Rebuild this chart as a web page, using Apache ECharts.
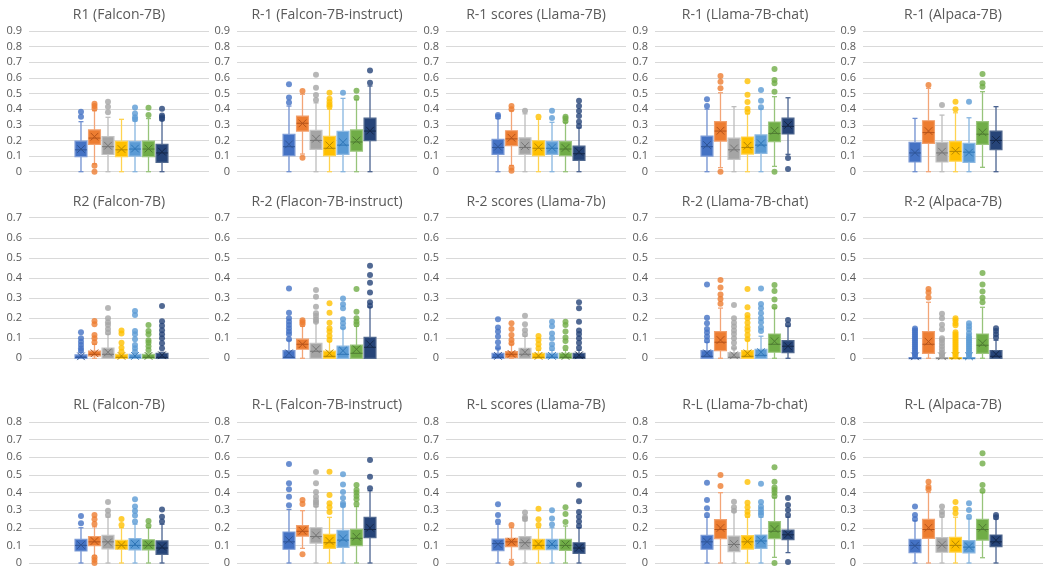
<!DOCTYPE html>
<html>
<head>
<meta charset="utf-8">
<script src="https://cdn.jsdelivr.net/npm/echarts@6/dist/echarts.min.js"></script>
<style>
html,body{margin:0;padding:0;background:#fff;}
#chart{width:1045px;height:571px;}
</style>
</head>
<body>
<div id="chart"></div>
<script>
// ---------- DATA ----------
const titles = [
  'R1 (Falcon-7B)', 'R-1 (Falcon-7B-instruct)', 'R-1 scores (Llama-7B)', 'R-1 (Llama-7B-chat)', 'R-1 (Alpaca-7B)',
  'R2 (Falcon-7B)', 'R-2 (Flacon-7B-instruct)', 'R-2 scores (Llama-7b)', 'R-2 (Llama-7B-chat)', 'R-2 (Alpaca-7B)',
  'RL (Falcon-7B)', 'R-L (Falcon-7B-instruct)', 'R-L scores (Llama-7B)', 'R-L (Llama-7b-chat)', 'R-L (Alpaca-7B)'
];
const rowMax = [0.9, 0.7, 0.8];
const yTickInterval = 0.1;

// each box: [lower whisker, Q1, median, Q3, upper whisker, mean]
const r1FalconStats = [
  [0, 0.096, 0.14, 0.196, 0.32, 0.145],
  [0.05, 0.175, 0.215, 0.267, 0.39, 0.224],
  [0, 0.11, 0.16, 0.224, 0.348, 0.166],
  [0, 0.096, 0.14, 0.194, 0.335, 0.145],
  [0, 0.1, 0.145, 0.192, 0.325, 0.148],
  [0, 0.096, 0.145, 0.196, 0.34, 0.148],
  [0, 0.06, 0.12, 0.175, 0.33, 0.128]
];
const r1FalconOutliers = [
  [0.384, 0.352], [0.435, 0.42, 0.405, 0.038, 0], [0.448, 0.415, 0.38], [],
  [0.41, 0.373, 0.348, 0.335], [0.409, 0.362], [0.403, 0.36, 0.348, 0.337]
];

const r1FalconInstStats = [
  [0, 0.102, 0.16, 0.239, 0.42, 0.175],
  [0.113, 0.26, 0.31, 0.356, 0.495, 0.309],
  [0, 0.143, 0.2, 0.264, 0.44, 0.211],
  [0, 0.102, 0.15, 0.226, 0.40, 0.168],
  [0, 0.111, 0.17, 0.258, 0.469, 0.188],
  [0, 0.132, 0.19, 0.267, 0.46, 0.2],
  [0, 0.198, 0.26, 0.343, 0.548, 0.262]
];
const r1FalconInstOutliers = [
  [0.559, 0.475, 0.443], [0.517, 0.09], [0.62, 0.537, 0.49, 0.458],
  [0.505, 0.467, 0.446, 0.428, 0.416], [0.505], [0.518, 0.473], [0.648, 0.569]
];

const r1LlamaStats = [
  [0, 0.111, 0.155, 0.207, 0.34, 0.16],
  [0.04, 0.166, 0.21, 0.262, 0.39, 0.217],
  [0, 0.111, 0.155, 0.217, 0.37, 0.164],
  [0, 0.102, 0.15, 0.198, 0.335, 0.156],
  [0, 0.111, 0.15, 0.192, 0.316, 0.154],
  [0, 0.102, 0.145, 0.192, 0.315, 0.152],
  [0, 0.072, 0.115, 0.164, 0.28, 0.128]
];
const r1LlamaOutliers = [
  [0.362, 0.352], [0.42, 0.4, 0.026, 0.006], [0.39], [0.352],
  [0.39, 0.343], [0.352, 0.34, 0.322], [0.454, 0.42, 0.388, 0.356, 0.32, 0.292]
];

const r1LlamaChatStats = [
  [0, 0.1, 0.16, 0.228, 0.40, 0.171],
  [0.026, 0.196, 0.26, 0.32, 0.505, 0.262],
  [0, 0.079, 0.14, 0.215, 0.416, 0.149],
  [0, 0.113, 0.155, 0.222, 0.37, 0.166],
  [0, 0.117, 0.17, 0.235, 0.40, 0.181],
  [0.034, 0.192, 0.245, 0.318, 0.48, 0.262],
  [0.111, 0.241, 0.29, 0.343, 0.473, 0.299]
];
const r1LlamaChatOutliers = [
  [0.463, 0.42], [0.612, 0.576, 0.533, 0], [], [0.578, 0.493, 0.446, 0.403, 0.384],
  [0.522, 0.454, 0.412], [0.657, 0.586, 0.565, 0.512, 0], [0.087, 0.017]
];

const r1AlpacaStats = [
  [0, 0.062, 0.12, 0.188, 0.341, 0.122],
  [0, 0.181, 0.25, 0.326, 0.533, 0.26],
  [0, 0.062, 0.12, 0.188, 0.362, 0.128],
  [0, 0.068, 0.13, 0.192, 0.377, 0.134],
  [0, 0.06, 0.125, 0.181, 0.345, 0.122],
  [0.028, 0.175, 0.24, 0.32, 0.512, 0.252],
  [0, 0.141, 0.2, 0.26, 0.416, 0.203]
];
const r1AlpacaOutliers = [
  [], [0.554], [0.426], [0.448, 0.399], [0.448], [0.625, 0.565, 0.544], []
];

const r2FalconStats = [
  [0, 0, 0.005, 0.017, 0.03, 0.01],
  [0, 0.012, 0.02, 0.036, 0.07, 0.025],
  [0, 0, 0.02, 0.051, 0.12, 0.03],
  [0, 0, 0.005, 0.02, 0.025, 0.012],
  [0, 0, 0.005, 0.02, 0.025, 0.012],
  [0, 0, 0.005, 0.02, 0.025, 0.012],
  [0, 0, 0.005, 0.025, 0.03, 0.015]
];
const r2FalconOutliers = [
  [0.13, 0.1, 0.083, 0.066, 0.05, 0.038],
  [0.186, 0.17, 0.116, 0.1, 0.08],
  [0.25, 0.2, 0.18, 0.166, 0.146, 0.128],
  [0.138, 0.124, 0.078, 0.053, 0.033],
  [0.235, 0.215, 0.136, 0.12, 0.095, 0.066, 0.05, 0.033],
  [0.166, 0.136, 0.12, 0.09, 0.078, 0.06, 0.041],
  [0.26, 0.185, 0.162, 0.14, 0.12, 0.1, 0.075, 0.05]
];

const r2FalconInstStats = [
  [0, 0, 0.005, 0.038, 0.09, 0.025],
  [0, 0.045, 0.07, 0.095, 0.16, 0.07],
  [0, 0, 0.035, 0.075, 0.18, 0.045],
  [0, 0, 0.01, 0.036, 0.085, 0.025],
  [0, 0, 0.02, 0.061, 0.15, 0.038],
  [0, 0, 0.025, 0.066, 0.16, 0.045],
  [0, 0, 0.055, 0.104, 0.255, 0.07]
];
const r2FalconInstOutliers = [
  [0.348, 0.227, 0.2, 0.182, 0.166, 0.15, 0.133, 0.12, 0.095],
  [0.19, 0.18, 0.17],
  [0.34, 0.307, 0.257, 0.224, 0.21, 0.194, 0.182],
  [0.274, 0.227, 0.177, 0.15, 0.133, 0.111, 0.091],
  [0.298, 0.269, 0.249, 0.194, 0.174, 0.155],
  [0.345, 0.232, 0.2, 0.182, 0.17],
  [0.461, 0.415, 0.376, 0.327, 0.279, 0.262]
];

const r2LlamaStats = [
  [0, 0, 0.005, 0.025, 0.05, 0.012],
  [0, 0.003, 0.02, 0.033, 0.07, 0.022],
  [0, 0, 0.02, 0.05, 0.11, 0.03],
  [0, 0, 0.005, 0.025, 0.04, 0.012],
  [0, 0, 0.005, 0.025, 0.04, 0.012],
  [0, 0, 0.005, 0.025, 0.04, 0.012],
  [0, 0, 0.005, 0.025, 0.04, 0.015]
];
const r2LlamaOutliers = [
  [0.194, 0.153, 0.133, 0.108, 0.08, 0.053],
  [0.174, 0.146, 0.116, 0.091, 0.075],
  [0.212, 0.17, 0.14, 0.12],
  [0.111, 0.091, 0.07, 0.05],
  [0.182, 0.16, 0.124, 0.1, 0.07, 0.05],
  [0.182, 0.166, 0.133, 0.103, 0.086, 0.053],
  [0.279, 0.249, 0.182, 0.138, 0.121, 0.1, 0.078, 0.053]
];

const r2LlamaChatStats = [
  [0, 0, 0.01, 0.038, 0.08, 0.025],
  [0, 0.038, 0.08, 0.133, 0.25, 0.091],
  [0, 0, 0.005, 0.028, 0.05, 0.015],
  [0, 0, 0.01, 0.038, 0.09, 0.025],
  [0, 0, 0.015, 0.045, 0.11, 0.03],
  [0, 0.03, 0.07, 0.121, 0.25, 0.085],
  [0, 0.028, 0.06, 0.088, 0.16, 0.06]
];
const r2LlamaChatOutliers = [
  [0.368, 0.202, 0.174, 0.146, 0.129, 0.108, 0.088],
  [0.39, 0.352, 0.318, 0.295, 0.272],
  [0.265, 0.2, 0.177, 0.158, 0.138, 0.121, 0.1, 0.078, 0.053],
  [0.345, 0.254, 0.216, 0.2, 0.177, 0.154, 0.138, 0.116, 0.095],
  [0.348, 0.27, 0.249, 0.224, 0.2, 0.18, 0.153, 0.136],
  [0.365, 0.335, 0.293, 0.257],
  [0.191, 0.168]
];

const r2AlpacaStats = [
  [0, 0, 0, 0.003, 0.005, 0.01],
  [0, 0.025, 0.07, 0.133, 0.279, 0.083],
  [0, 0, 0, 0.003, 0.005, 0.01],
  [0, 0, 0, 0.003, 0.005, 0.012],
  [0, 0, 0, 0.003, 0.005, 0.01],
  [0, 0.025, 0.065, 0.121, 0.254, 0.075],
  [0, 0, 0.01, 0.038, 0.09, 0.02]
];
const r2AlpacaOutliers = [
  [0.148, 0.14, 0.13, 0.12, 0.11, 0.1, 0.09, 0.08, 0.07, 0.06, 0.05, 0.04, 0.03, 0.02, 0.01],
  [0.345, 0.328, 0.303],
  [0.222, 0.2, 0.167, 0.145, 0.1, 0.09, 0.075, 0.06, 0.045, 0.03, 0.02, 0.01],
  [0.2, 0.19, 0.175, 0.165, 0.13, 0.12, 0.11, 0.1, 0.09, 0.08, 0.07, 0.06, 0.05, 0.04, 0.03, 0.02, 0.01],
  [0.175, 0.16, 0.145, 0.125, 0.11, 0.1, 0.09, 0.08, 0.07, 0.06, 0.05, 0.04, 0.03, 0.02, 0.01],
  [0.425, 0.368, 0.332, 0.302, 0.279],
  [0.149, 0.136, 0.12, 0.103]
];

const rlFalconStats = [
  [0, 0.068, 0.1, 0.134, 0.2, 0.102],
  [0.04, 0.098, 0.12, 0.15, 0.205, 0.125],
  [0, 0.08, 0.12, 0.157, 0.26, 0.117],
  [0, 0.078, 0.1, 0.129, 0.2, 0.102],
  [0, 0.074, 0.1, 0.138, 0.22, 0.108],
  [0, 0.074, 0.1, 0.132, 0.2, 0.104],
  [0, 0.049, 0.085, 0.125, 0.22, 0.093]
];
const rlFalconOutliers = [
  [0.267, 0.225], [0.272, 0.248, 0.221, 0.032, 0.017, 0], [0.346, 0.297, 0.272],
  [0.25, 0.216], [0.361, 0.32, 0.295, 0.269, 0.235], [0.238, 0.212], [0.304, 0.263, 0.235]
];

const rlFalconInstStats = [
  [0, 0.078, 0.12, 0.176, 0.304, 0.13],
  [0.083, 0.153, 0.18, 0.212, 0.297, 0.183],
  [0, 0.113, 0.15, 0.2, 0.32, 0.157],
  [0, 0.083, 0.115, 0.163, 0.259, 0.125],
  [0, 0.089, 0.13, 0.185, 0.32, 0.14],
  [0, 0.098, 0.14, 0.191, 0.32, 0.149],
  [0, 0.144, 0.19, 0.259, 0.41, 0.2]
];
const rlFalconInstOutliers = [
  [0.562, 0.452, 0.418, 0.376, 0.327],
  [0.357, 0.335, 0.049],
  [0.516, 0.452, 0.403, 0.376, 0.354, 0.342, 0.329],
  [0.518, 0.386, 0.339, 0.316, 0.289],
  [0.503, 0.446, 0.403, 0.369, 0.339, 0.327],
  [0.443, 0.414, 0.399, 0.38, 0.361, 0.335],
  [0.584, 0.49, 0.424]
];

const rlLlamaStats = [
  [0, 0.07, 0.11, 0.136, 0.22, 0.106],
  [0.02, 0.093, 0.12, 0.14, 0.2, 0.121],
  [0, 0.076, 0.115, 0.15, 0.24, 0.112],
  [0, 0.076, 0.1, 0.134, 0.2, 0.108],
  [0, 0.076, 0.1, 0.134, 0.2, 0.108],
  [0, 0.072, 0.1, 0.134, 0.21, 0.105],
  [0, 0.055, 0.085, 0.115, 0.2, 0.087]
];
const rlLlamaOutliers = [
  [0.333, 0.272, 0.235], [0.216, 0], [0.287, 0.259, 0.25], [0.308, 0.248, 0.216],
  [0.299, 0.253, 0.219], [0.316, 0.278, 0.233], [0.444, 0.35, 0.289, 0.263, 0.235, 0.21]
];

const rlLlamaChatStats = [
  [0, 0.078, 0.12, 0.157, 0.26, 0.121],
  [0, 0.138, 0.19, 0.246, 0.399, 0.199],
  [0, 0.064, 0.105, 0.153, 0.29, 0.108],
  [0, 0.079, 0.12, 0.155, 0.26, 0.123],
  [0, 0.083, 0.125, 0.159, 0.26, 0.129],
  [0.032, 0.138, 0.18, 0.235, 0.37, 0.193],
  [0.059, 0.132, 0.16, 0.187, 0.26, 0.163]
];
const rlLlamaChatOutliers = [
  [0.456, 0.357, 0.31, 0.272], [0.499, 0.437], [0.348, 0.316, 0.297],
  [0.46, 0.342, 0.316, 0.291, 0.272], [0.45, 0.346, 0.32, 0.304, 0.286, 0.272],
  [0.543, 0.461, 0.429, 0.414, 0.399, 0.38, 0], [0.369, 0.329, 0.301, 0.272, 0.006]
];

const rlAlpacaStats = [
  [0, 0.059, 0.1, 0.134, 0.24, 0.098],
  [0, 0.14, 0.19, 0.248, 0.4, 0.2],
  [0, 0.061, 0.1, 0.144, 0.26, 0.104],
  [0, 0.062, 0.1, 0.146, 0.26, 0.106],
  [0, 0.057, 0.09, 0.127, 0.25, 0.093],
  [0.03, 0.13, 0.19, 0.248, 0.4, 0.2],
  [0, 0.093, 0.12, 0.159, 0.25, 0.129]
];
const rlAlpacaOutliers = [
  [0.32, 0.272, 0.25], [0.461, 0.433, 0.418], [0.32, 0.291, 0.272], [0.346, 0.308, 0.282],
  [0.339, 0.301, 0.263], [0.622, 0.565, 0.443, 0.41], [0.272, 0.259]
];

const panelStats = [
  r1FalconStats, r1FalconInstStats, r1LlamaStats, r1LlamaChatStats, r1AlpacaStats,
  r2FalconStats, r2FalconInstStats, r2LlamaStats, r2LlamaChatStats, r2AlpacaStats,
  rlFalconStats, rlFalconInstStats, rlLlamaStats, rlLlamaChatStats, rlAlpacaStats
];
const panelOutliers = [
  r1FalconOutliers, r1FalconInstOutliers, r1LlamaOutliers, r1LlamaChatOutliers, r1AlpacaOutliers,
  r2FalconOutliers, r2FalconInstOutliers, r2LlamaOutliers, r2LlamaChatOutliers, r2AlpacaOutliers,
  rlFalconOutliers, rlFalconInstOutliers, rlLlamaOutliers, rlLlamaChatOutliers, rlAlpacaOutliers
];

// ---------- STYLE / LAYOUT ----------
const fills   = ['#4472C4', '#ED7D31', '#A5A5A5', '#FFC000', '#5B9BD5', '#70AD47', '#264478'];
const borders = ['#7C9BD6', '#F2A06C', '#C4C4C4', '#FFD24D', '#8DB9E2', '#9BC67E', '#51698F'];
const whisk   = ['#6E8FD0', '#F3A577', '#BDBDBD', '#FFD350', '#86B5E0', '#97C47A', '#4A6390'];
const darks   = ['#2F5597', '#B5531A', '#767676', '#B38600', '#2E75B6', '#4E7A32', '#15284A'];

const plotLeft = [29, 237, 446, 655, 863];
const plotWidth = 180;
const rowTop = [31, 217.7, 422];
const rowHeight = [140.7, 140.6, 141];
const titleTop = [3, 190, 393];
const FONT = '"Open Sans", "Liberation Sans", sans-serif';

function renderBox(params, api) {
  const k = api.value(0);
  const ci = k - 1;
  const cx = api.coord([k, 0])[0];
  const y = i => api.coord([k, api.value(i)])[1];
  const yMin = y(1), yQ1 = y(2), yMed = y(3), yQ3 = y(4), yMax = y(5), yMean = y(6);
  const hw = api.size([0.88, 0])[0] / 2;
  const cap = 2.5, m = 3.8;
  const ws = { stroke: whisk[ci], lineWidth: 1.3 };
  const ds = { stroke: darks[ci], lineWidth: 1 };
  return {
    type: 'group',
    children: [
      { type: 'line', shape: { x1: cx, y1: yMax, x2: cx, y2: yQ3 }, style: ws },
      { type: 'line', shape: { x1: cx, y1: yQ1, x2: cx, y2: yMin }, style: ws },
      { type: 'line', shape: { x1: cx - cap, y1: yMax, x2: cx + cap, y2: yMax }, style: ws },
      { type: 'line', shape: { x1: cx - cap, y1: yMin, x2: cx + cap, y2: yMin }, style: ws },
      { type: 'rect', shape: { x: cx - hw, y: yQ3, width: 2 * hw, height: Math.max(yQ1 - yQ3, 1) },
        style: { fill: fills[ci], stroke: borders[ci], lineWidth: 1.2 } },
      { type: 'line', shape: { x1: cx - hw, y1: yMed, x2: cx + hw, y2: yMed }, style: ds },
      { type: 'line', shape: { x1: cx - m, y1: yMean - m, x2: cx + m, y2: yMean + m }, style: ds },
      { type: 'line', shape: { x1: cx - m, y1: yMean + m, x2: cx + m, y2: yMean - m }, style: ds }
    ]
  };
}

const grid = [], xAxis = [], yAxis = [], series = [], title = [];
for (let p = 0; p < 15; p++) {
  const r = Math.floor(p / 5), c = p % 5;
  grid.push({ left: plotLeft[c], top: rowTop[r], width: plotWidth, height: rowHeight[r] });
  xAxis.push({ gridIndex: p, type: 'value', min: -2.85, max: 10.48, show: false });
  yAxis.push({
    gridIndex: p, type: 'value', min: 0, max: rowMax[r], interval: yTickInterval,
    axisLine: { show: false }, axisTick: { show: false },
    axisLabel: { color: '#595959', fontSize: 11, fontFamily: FONT, margin: 7,
      formatter: v => String(+v.toFixed(1)) },
    splitLine: { lineStyle: { color: '#D9D9D9', width: 1 } }
  });
  title.push({
    text: titles[p], left: plotLeft[c] + plotWidth / 2 - 5, top: titleTop[r], textAlign: 'center',
    textStyle: { color: '#595959', fontSize: 14, fontWeight: 'normal', fontFamily: FONT }
  });
  series.push({
    type: 'custom', xAxisIndex: p, yAxisIndex: p, renderItem: renderBox,
    encode: { x: 0, y: [1, 2, 3, 4, 5, 6] },
    data: panelStats[p].map((s, i) => [i + 1].concat(s)), z: 2
  });
  const pts = [];
  panelOutliers[p].forEach((arr, i) => arr.forEach(v => pts.push({ value: [i + 1, v], itemStyle: { color: fills[i] } })));
  series.push({
    type: 'scatter', xAxisIndex: p, yAxisIndex: p, symbol: 'circle', symbolSize: 6,
    data: pts, z: 3
  });
}

const chart = echarts.init(document.getElementById('chart'), null, { renderer: 'canvas' });
chart.setOption({ animation: false, backgroundColor: '#fff', title, grid, xAxis, yAxis, series });
</script>
</body>
</html>
